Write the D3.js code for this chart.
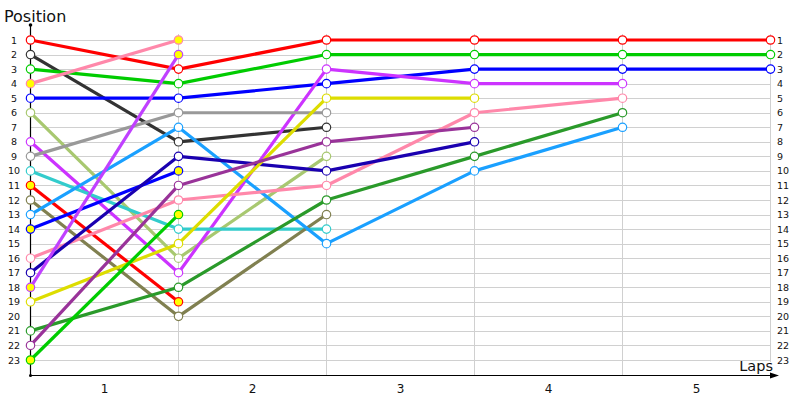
<!DOCTYPE html>
<html><head><meta charset="utf-8">
<script src="https://cdn.jsdelivr.net/npm/d3@7"></script>
<style>body{margin:0;background:#fff}svg{display:block}text{font-family:"DejaVu Sans",Verdana,sans-serif}</style>
</head><body><svg id="c" width="800" height="400"></svg>
<script>
// ---- data ----
const laps = [0, 1, 2, 3, 4, 5];
const lapLabels = ["1", "2", "3", "4", "5"];
const positions = d3.range(1, 24);
const drivers = ["A", "B", "C", "D", "E", "F", "G", "H", "I", "J", "K", "L", "M", "N", "O", "P", "Q", "R", "S", "T"];
const driverPositions = [
  [1, 3, 1, 1, 1, 1],   // red
  [2, 8, 7],            // dark
  [3, 4, 2, 2, 2, 2],   // green
  [4, 1],               // pink (retired)
  [5, 5, 4, 3, 3, 3],   // blue
  [6, 16, 9],           // yellow-green
  [8, 17, 3, 4, 4],     // violet
  [9, 6, 6],            // gray
  [10, 14, 14],         // cyan
  [11, 19],             // red 2 (retired)
  [12, 20, 13],         // olive
  [13, 7, 15, 10, 7],   // light blue
  [14, 10],             // blue 2 (retired)
  [16, 12, 11, 6, 5],   // pink 2
  [17, 9, 10, 8],       // navy
  [18, 2],              // violet 2 (retired)
  [19, 15, 5, 5],       // yellow
  [21, 18, 12, 9, 6],   // forest green
  [22, 11, 8, 7],       // plum
  [23, 13]              // green 2 (retired)
];
const retired = [false,false,false,true,false,false,false,false,false,true,false,false,true,false,false,true,false,false,false,true];
const colors = ["#ff0000","#333333","#00cc00","#ff88aa","#0000ff","#a8c870","#cc33ff","#999999","#33cccc","#ff0000",
                "#808050","#1aa0ff","#0000ff","#ff88aa","#1a00b0","#c040ff","#dddd00","#2a9a2a","#993399","#00cc00"];

// ---- layout ----
const svg = d3.select("#c");
const x = d3.scaleLinear().domain([0, 5]).range([30.5, 770.5]);
const y = d3.scaleLinear().domain([1, 23]).range([40, 360]);
const axisY = 375.5;

// gridlines
svg.append("g").selectAll("line").data(positions).join("line")
  .attr("x1", x(0)).attr("x2", x(5))
  .attr("y1", d => Math.round(y(d)) + 0.5).attr("y2", d => Math.round(y(d)) + 0.5)
  .attr("stroke", "#d0d0d0").attr("stroke-width", 1);
svg.append("g").selectAll("line").data(laps.slice(1)).join("line")
  .attr("x1", d => x(d)).attr("x2", d => x(d))
  .attr("y1", 34).attr("y2", d => d === 5 ? 362 : axisY)
  .attr("stroke", "#d0d0d0").attr("stroke-width", 1);

// axes
svg.append("line").attr("x1", x(0)).attr("x2", x(0)).attr("y1", 25).attr("y2", axisY)
  .attr("stroke", "#000").attr("stroke-width", 1.2);
svg.append("circle").attr("cx", x(0)).attr("cy", 25).attr("r", 1.8).attr("fill", "#000");
svg.append("circle").attr("cx", x(0)).attr("cy", axisY).attr("r", 1.5).attr("fill", "#000");
svg.append("line").attr("x1", x(0)).attr("x2", 772).attr("y1", axisY).attr("y2", axisY)
  .attr("stroke", "#000").attr("stroke-width", 1.2);
svg.append("path").attr("d", `M770,${axisY-3} L779,${axisY} L770,${axisY+3} Z`).attr("fill", "#000");

// axis labels
svg.append("text").attr("x", 4).attr("y", 22).attr("font-size", 16).attr("fill", "#111").text("Position");
svg.append("text").attr("x", 773).attr("y", 371).attr("text-anchor", "end").attr("font-size", 14.5).attr("fill", "#111").text("Laps");

svg.append("g").selectAll("text").data(positions).join("text")
  .attr("x", 14).attr("y", d => y(d) + 3.5).attr("text-anchor", "middle")
  .attr("font-size", 9.5).attr("fill", "#111").text(d => d);
svg.append("g").selectAll("text").data(positions).join("text")
  .attr("x", 777).attr("y", d => y(d) + 3.5).attr("text-anchor", "start")
  .attr("font-size", 9.5).attr("fill", "#111").text(d => d);
svg.append("g").selectAll("text").data(lapLabels).join("text")
  .attr("x", (d, i) => (x(i) + x(i + 1)) / 2).attr("y", 393).attr("text-anchor", "middle")
  .attr("font-size", 12).attr("fill", "#111").text(d => d);

// series
const line = d3.line().x((d, i) => x(laps[i])).y(d => y(d));
const series = drivers.map((name, i) => ({name, pos: driverPositions[i], color: colors[i], retired: retired[i]}));
const g = svg.append("g");
series.forEach(s => {
  g.append("path").attr("d", line(s.pos)).attr("fill", "none")
    .attr("stroke", s.color).attr("stroke-width", 3.2).attr("stroke-linejoin", "round");
});
series.forEach(s => {
  g.append("g").selectAll("circle").data(s.pos).join("circle")
    .attr("cx", (d, i) => x(laps[i])).attr("cy", d => y(d)).attr("r", 4.2)
    .attr("fill", s.retired ? "#ffff00" : "#fff").attr("stroke", s.color).attr("stroke-width", 1.2);
});
</script></body></html>
